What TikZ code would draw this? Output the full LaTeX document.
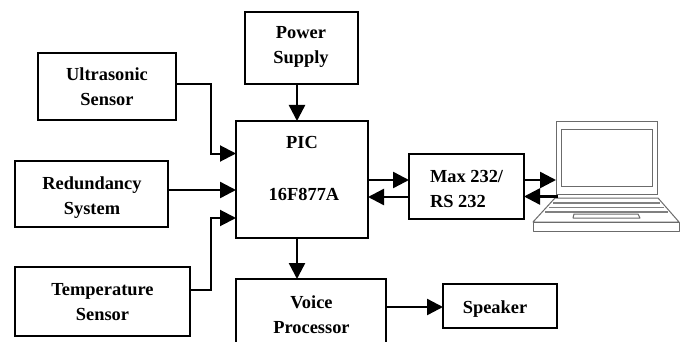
\documentclass[tikz,border=0pt]{standalone}
\usepackage{fontspec}
\setmainfont{Liberation Serif}
\usetikzlibrary{arrows.meta}
\tikzset{
  block/.style n args={2}{draw=black,line width=2pt,fill=white,anchor=north west,inner sep=0pt,outer sep=0pt,minimum width=#1,minimum height=#2},
  txt/.style={font=\fontsize{18.4}{25}\selectfont\bfseries,align=center,inner sep=0pt,outer sep=0pt},
  link/.style={draw=black,line width=2.4pt,-{Triangle[length=16pt,width=16pt]}},
  thinlink/.style={link,line width=2pt},
  lap/.style={draw=black!58,line width=1pt,fill=white,line join=round},
  keys/.style={draw=black!50,line width=1.4pt},
}
\begin{document}
\begin{tikzpicture}[x=1pt,y=-1pt]
\clip (0,0) rectangle (685,342);
\fill[white] (0,0) rectangle (685,342);
% laptop
\draw[lap] (555,198) -- (658,198) -- (679,222) -- (533,222) -- cycle;
\draw[lap] (533,222) rectangle (679,231);
\draw[keys] (553,203) -- (660,203);
\draw[keys] (549,207.5) -- (664,207.5);
\draw[keys] (545,212) -- (668,212);
\draw[lap] (574,214) -- (638,214) -- (640,218) -- (573,218) -- cycle;
\node[draw=black!58,line width=1pt,fill=white,anchor=north west,inner sep=0pt,outer sep=0pt,minimum width=101pt,minimum height=72pt] (screen) at (556,122) {};
\node[draw=black!58,line width=1pt,anchor=north west,inner sep=0pt,outer sep=0pt,minimum width=91pt,minimum height=56pt] (display) at (561,130) {};
% blocks
\node[block={113pt}{72pt}] (power) at (245,12) {};
\node[block={138pt}{67pt}] (ultra) at (38,53) {};
\node[block={153pt}{66pt}] (redund) at (15,161) {};
\node[block={175pt}{69pt}] (temp) at (15,267) {};
\node[block={132pt}{117pt}] (pic) at (236,121) {};
\node[block={150pt}{90pt}] (voice) at (236,279) {};
\node[block={115pt}{65pt}] (maxb) at (409,153.5) {};
\node[block={114pt}{44pt}] (speaker) at (443,284) {};
% texts
\node[txt] (powert) at (301,46.5) {\strut Power\\\strut Supply};
\node[txt] (ultrat) at (107,88.5) {\strut Ultrasonic\\\strut Sensor};
\node[txt] (redundt) at (92,196.5) {\strut Redundancy\\\strut System};
\node[txt] (tempt) at (102.5,302.5) {\strut Temperature\\\strut Sensor};
\node[txt] (pict) at (302,144) {\strut PIC};
\node[txt] (pict2) at (304,195) {\strut 16F877A};
\node[txt] (voicet) at (311.5,315.5) {\strut Voice\\\strut Processor};
\node[txt,align=left,anchor=west] (maxt) at (430,189.5) {\strut Max 232/\\\strut RS 232};
\node[txt] (speakert) at (495,308) {\strut Speaker};
% anchors on the block edges
\coordinate (ultraout) at (176,84);
\coordinate (picu) at (236,153.5);
\coordinate (tempout) at (190,290);
\coordinate (pict3) at (236,218);
\coordinate (redout) at (168,190);
\coordinate (picr) at (236,190);
\coordinate (powerout) at (297,84);
\coordinate (pictop) at (297,121);
\coordinate (picbot) at (297,238);
\coordinate (voicetop) at (297,279);
\coordinate (picout) at (368,180);
\coordinate (maxin) at (409,180);
\coordinate (maxback) at (409,197);
\coordinate (picin) at (368,197);
\coordinate (maxout) at (524,180);
\coordinate (lapin) at (556,180);
\coordinate (lapout) at (558,196.5);
\coordinate (maxin2) at (524,196.5);
\coordinate (voiceout) at (386,307);
\coordinate (spkin) at (443,307);
% connectors
\draw[thinlink] (ultraout) -- (211,84) -- (211,153.5) -- (picu);
\draw[link] (redout) -- (picr);
\draw[thinlink] (tempout) -- (211,290) -- (211,218) -- (pict3);
\draw[link] (powerout) -- (pictop);
\draw[link] (picbot) -- (voicetop);
\draw[link] (picout) -- (maxin);
\draw[link] (maxback) -- (picin);
\draw[link] (maxout) -- (lapin);
\draw[link] (lapout) -- (maxin2);
\draw[link] (voiceout) -- (spkin);
\end{tikzpicture}
\end{document}
